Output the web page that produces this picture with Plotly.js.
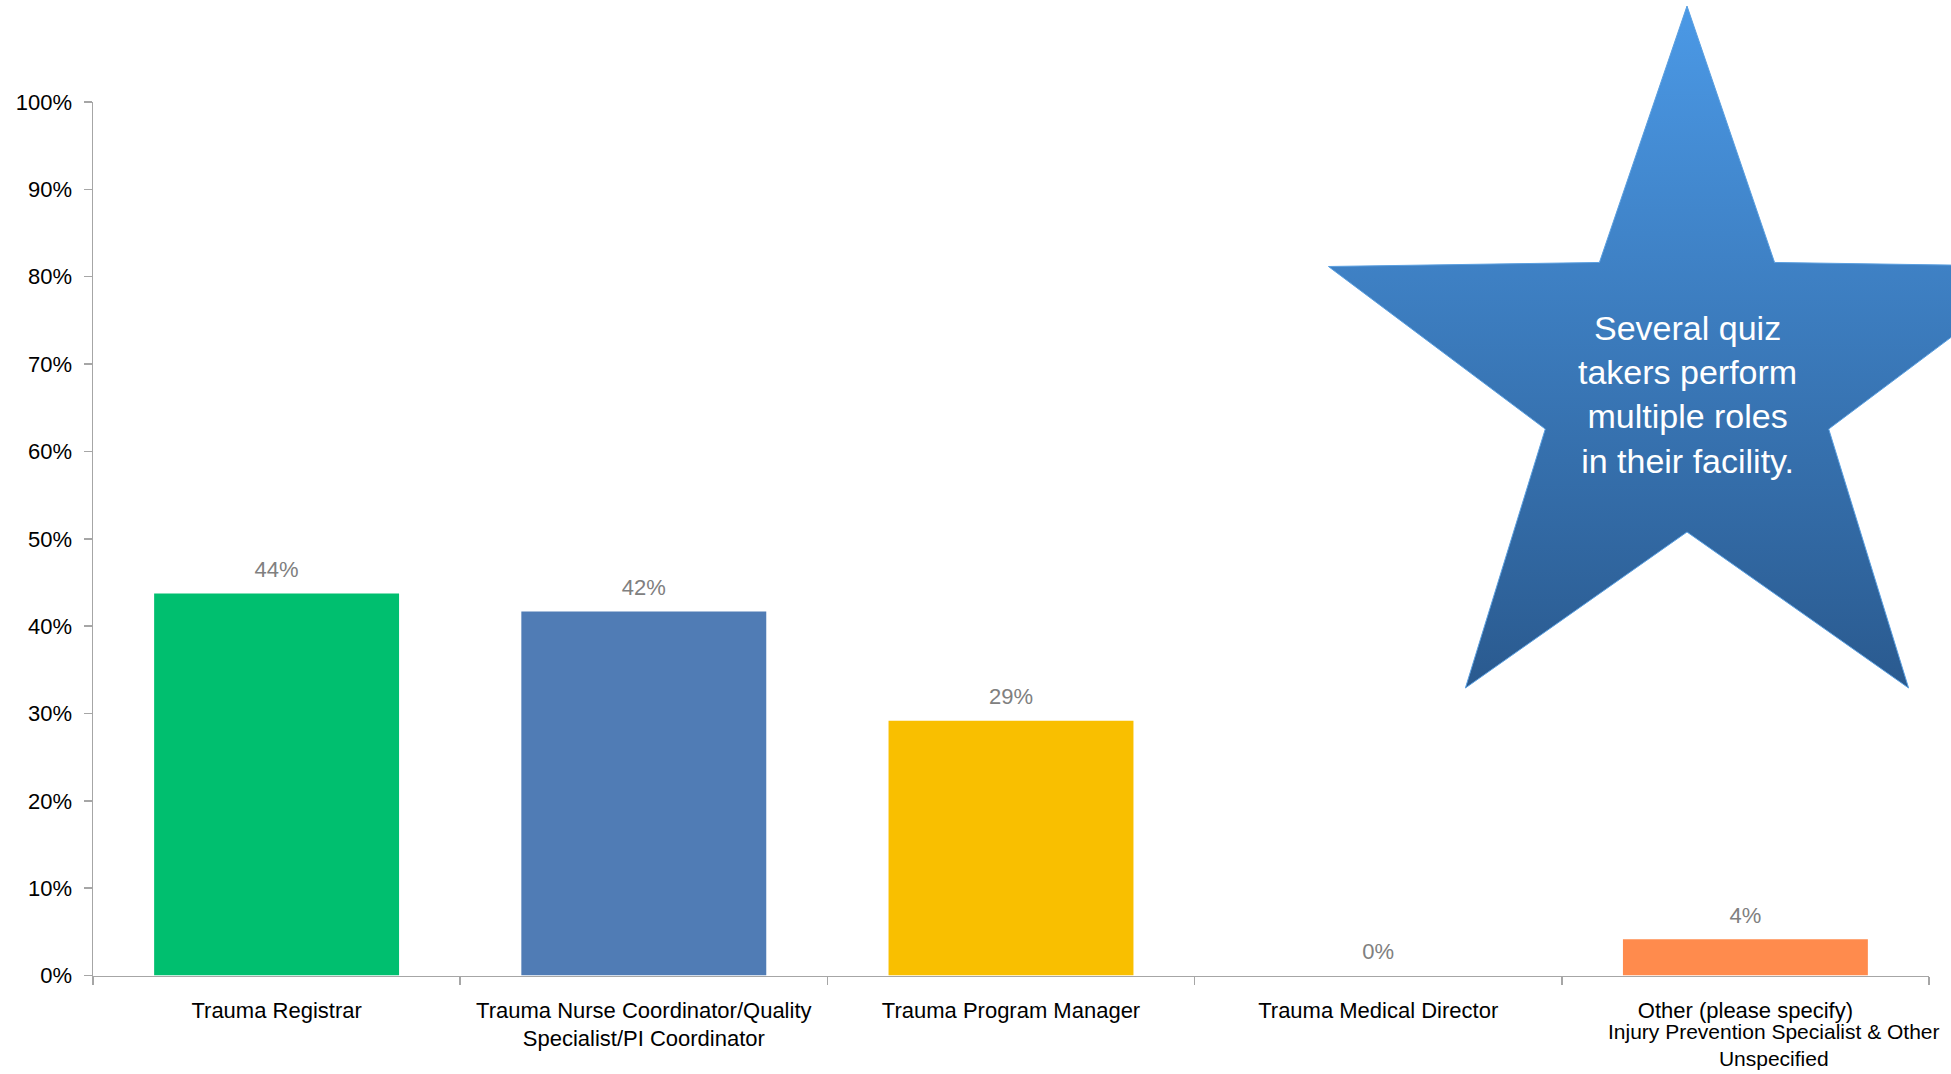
<!DOCTYPE html>
<html>
<head>
<meta charset="utf-8">
<script src="https://cdn.plot.ly/plotly-3.0.1.min.js"></script>
<style>html,body{margin:0;padding:0;background:#fff;}#chart{width:1951px;height:1074px;}</style>
</head>
<body>
<div id="chart"></div>
<script>
// ---- data ----
const categories = [
  "Trauma Registrar",
  "Trauma Nurse Coordinator/Quality<br>Specialist/PI Coordinator",
  "Trauma Program Manager",
  "Trauma Medical Director",
  "Other (please specify)"
];
const shares = [0.4375, 0.4167, 0.2917, 0.0, 0.0417];
const barColors = ["#00BF6F", "#507CB5", "#F9BF00", "#F9BF00", "#FF8B4D"];
const yTickVals = [0, 0.1, 0.2, 0.3, 0.4, 0.5, 0.6, 0.7, 0.8, 0.9, 1.0];
const otherNote = "Injury Prevention Specialist & Other<br>Unspecified";
const starText = "Several quiz<br>takers perform<br>multiple roles<br>in their facility.";

// ---- page geometry (pixels) ----
const W = 1951, H = 1074;
const FONT = "Liberation Sans, Arial, sans-serif";
const plotL = 93, plotR = 1929, plotTop = 102, plotBot = 975.6;

// star decoration (regular five-point star) in page pixel space, y up
const star = {cx: 1687, cy: H - 383, R: 377, r: 149};
const sx = [], sy = [];
for (let k = 0; k <= 10; k++) {
  const ang = (90 + k * 36) * Math.PI / 180;
  const rad = (k % 2 === 0) ? star.R : star.r;
  sx.push(star.cx + rad * Math.cos(ang));
  sy.push(star.cy + rad * Math.sin(ang));
}

const traces = [
  {
    type: "bar",
    x: categories,
    y: shares,
    marker: {color: barColors},
    hoverinfo: "none",
    xaxis: "x", yaxis: "y"
  },
  {
    type: "scatter",
    mode: "markers+text",
    x: categories,
    y: shares,
    marker: {size: 16, color: "rgba(0,0,0,0)"},
    text: shares.map(v => Math.round(v * 100) + "%"),
    textposition: "top center",
    cliponaxis: false,
    textfont: {family: FONT, size: 22, color: "#808080"},
    hoverinfo: "none",
    showlegend: false,
    xaxis: "x", yaxis: "y"
  },
  {
    type: "scatter",
    mode: "lines",
    x: sx, y: sy,
    fill: "toself",
    fillgradient: {type: "vertical", start: star.cy - star.R * 0.809, stop: star.cy + star.R,
                   colorscale: [[0, "#2A5A8F"], [1, "#4B99E6"]]},
    line: {color: "#5A9FE0", width: 1},
    hoverinfo: "none",
    showlegend: false,
    xaxis: "x2", yaxis: "y2"
  }
];

const annotations = [
  {xref: "x2", yref: "y2", x: star.cx, y: H - 394, text: starText, showarrow: false,
   xanchor: "center", yanchor: "middle", align: "center",
   font: {family: FONT, size: 34, color: "#FFFFFF"}},
  {xref: "x2", yref: "y2", x: 1774, y: H - 1045, text: otherNote, showarrow: false,
   xanchor: "center", yanchor: "middle", align: "center",
   font: {family: FONT, size: 21, color: "#000000"}}
];

const layout = {
  width: W, height: H,
  margin: {l: 0, r: 0, t: 0, b: 0},
  paper_bgcolor: "#FFFFFF",
  plot_bgcolor: "rgba(0,0,0,0)",
  showlegend: false,
  bargap: 0.333,
  font: {family: FONT, color: "#000000"},
  xaxis: {
    domain: [plotL / W, plotR / W],
    anchor: "y",
    type: "category",
    tickson: "boundaries",
    tickangle: 0,
    ticks: "outside", ticklen: 8, tickcolor: "#A6A6A6", tickwidth: 1.5,
    showline: true, linecolor: "#A6A6A6", linewidth: 1.5,
    showgrid: false,
    tickfont: {family: FONT, size: 22, color: "#000000"},
    ticklabelstandoff: 14,
    fixedrange: true
  },
  yaxis: {
    domain: [(H - plotBot) / H, (H - plotTop) / H],
    anchor: "x",
    range: [0, 1],
    tickvals: yTickVals,
    tickformat: ".0%",
    ticks: "outside", ticklen: 8, tickcolor: "#A6A6A6", tickwidth: 1.5,
    showline: true, linecolor: "#A6A6A6", linewidth: 1.5,
    showgrid: false, zeroline: false,
    tickfont: {family: FONT, size: 22, color: "#000000"},
    ticklabelstandoff: 7,
    fixedrange: true
  },
  xaxis2: {domain: [0, 1], range: [0, W], anchor: "y2", visible: false, fixedrange: true},
  yaxis2: {domain: [0, 1], range: [0, H], anchor: "x2", visible: false, fixedrange: true},
  annotations: annotations
};

Plotly.newPlot("chart", traces, layout, {displayModeBar: false, staticPlot: true});
</script>
</body>
</html>
